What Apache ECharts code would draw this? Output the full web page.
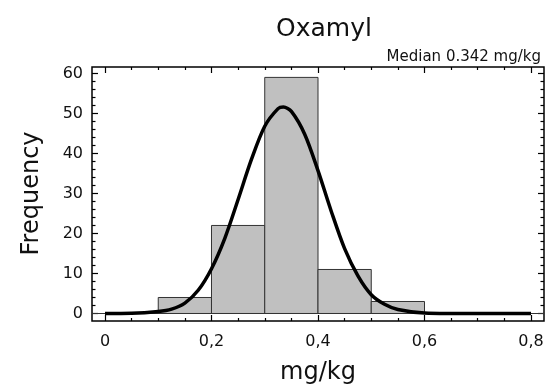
<!DOCTYPE html>
<html>
<head>
<meta charset="utf-8">
<script src="https://cdn.jsdelivr.net/npm/echarts@6/dist/echarts.min.js"></script>
<style>html,body{margin:0;padding:0;background:#fff}#c{width:548px;height:392px}</style>
</head>
<body>
<div id="c"></div>
<script>
var titleText = 'Oxamyl';
var subtitleText = 'Median 0.342 mg/kg';
var xName = 'mg/kg';
var yName = 'Frequency';
var binStart = [0.1, 0.2, 0.3, 0.4, 0.5];
var binEnd = [0.2, 0.3, 0.4, 0.5, 0.6];
var freq = [4, 22, 59, 11, 3];
var curveX = [0, 0.05, 0.1, 0.125, 0.15, 0.175, 0.2, 0.225, 0.25, 0.275, 0.3, 0.325, 0.335, 0.35, 0.375, 0.4, 0.425, 0.45, 0.475, 0.5, 0.525, 0.55, 0.6, 0.65, 0.7, 0.8];
var curveY = [0, 0.05, 0.5, 1.1, 2.6, 5.8, 11.2, 18.8, 28.5, 38.5, 46.8, 51.2, 51.6, 50.5, 44.8, 35.7, 25.5, 16.2, 9.4, 4.7, 2.3, 1.0, 0.12, 0.01, 0, 0];

var FONT = 'DejaVu Sans';
var chart = echarts.init(document.getElementById('c'), null, {renderer: 'canvas'});
var barData = binStart.map(function (s, i) { return [s, binEnd[i], freq[i]]; });
var lineData = curveX.map(function (x, i) { return [x, curveY[i]]; });

var hidden = {show: false};
chart.setOption({
  animation: false,
  backgroundColor: '#fff',
  title: [
    {text: titleText, left: 319, top: 12, textAlign: 'center',
     textStyle: {fontFamily: FONT, fontSize: 25, fontWeight: 'normal', color: '#111'}},
    {text: subtitleText, right: 2, top: 45,
     textStyle: {fontFamily: FONT, fontSize: 15, fontWeight: 'normal', color: '#111'}}
  ],
  grid: [
    {left: 92, right: 4, top: 67, bottom: 71, show: true, borderColor: '#000', borderWidth: 1.5, backgroundColor: 'transparent'},
    {left: 105, right: 17, top: 67, bottom: 71},
    {left: 92, right: 4, top: 73.4, bottom: 78.5}
  ],
  xAxis: [
    {gridIndex: 0, type: 'value', min: -0.0244, max: 0.8244, axisLine: hidden, axisTick: hidden, axisLabel: hidden, splitLine: hidden},
    {gridIndex: 1, type: 'value', position: 'bottom', min: 0, max: 0.8, interval: 0.2,
     axisLine: hidden, splitLine: hidden,
     axisTick: {show: true, inside: true, length: 6, lineStyle: {color: '#000', width: 1.2}},
     minorTick: {show: true, splitNumber: 4, length: 3, lineStyle: {color: '#000', width: 1.2}},
     axisLabel: {margin: 13, fontFamily: FONT, fontSize: 16, color: '#111',
       formatter: function (v) { return String(+v.toFixed(2)).replace('.', ','); }},
     name: xName, nameLocation: 'middle', nameGap: 40,
     nameTextStyle: {fontFamily: FONT, fontSize: 24, color: '#111'}},
    {gridIndex: 1, type: 'value', position: 'top', min: 0, max: 0.8, interval: 0.2,
     axisLine: hidden, splitLine: hidden, axisLabel: hidden,
     axisTick: {show: true, inside: true, length: 6, lineStyle: {color: '#000', width: 1.2}},
     minorTick: {show: true, splitNumber: 4, length: 3, lineStyle: {color: '#000', width: 1.2}}},
    {gridIndex: 2, type: 'value', show: false, min: 0, max: 1}
  ],
  yAxis: [
    {gridIndex: 0, type: 'value', min: -1.875, max: 61.6, axisLine: hidden, axisTick: hidden, axisLabel: hidden, splitLine: hidden},
    {gridIndex: 1, type: 'value', show: false, min: 0, max: 1},
    {gridIndex: 2, type: 'value', position: 'left', min: 0, max: 60, interval: 10,
     axisLine: hidden, splitLine: hidden,
     axisTick: {show: true, inside: true, length: 6, lineStyle: {color: '#000', width: 1.2}},
     minorTick: {show: true, splitNumber: 5, length: 3.5, lineStyle: {color: '#000', width: 1.2}},
     axisLabel: {margin: 9, fontFamily: FONT, fontSize: 16, color: '#111'},
     name: yName, nameLocation: 'middle', nameGap: 48,
     nameTextStyle: {fontFamily: FONT, fontSize: 24, color: '#111'}},
    {gridIndex: 2, type: 'value', position: 'right', min: 0, max: 60, interval: 10,
     axisLine: hidden, splitLine: hidden, axisLabel: hidden,
     axisTick: {show: true, inside: true, length: 6, lineStyle: {color: '#000', width: 1.2}},
     minorTick: {show: true, splitNumber: 5, length: 3.5, lineStyle: {color: '#000', width: 1.2}}}
  ],
  series: [
    {type: 'custom', xAxisIndex: 0, yAxisIndex: 0, data: barData,
     renderItem: function (params, api) {
       var p0 = api.coord([api.value(0), api.value(2)]);
       var p1 = api.coord([api.value(1), 0]);
       return {type: 'rect', shape: {x: p0[0], y: p0[1], width: p1[0] - p0[0], height: p1[1] - p0[1]},
               style: {fill: '#c0c0c0', stroke: '#333', lineWidth: 1}};
     }},
    {type: 'line', xAxisIndex: 0, yAxisIndex: 0, data: lineData, smooth: 0.3, symbol: 'none',
     lineStyle: {color: '#000', width: 3.5},
     markLine: {silent: true, symbol: 'none', label: {show: false},
       lineStyle: {color: '#333', width: 1, type: 'solid'}, data: [{yAxis: 0}]},
     z: 5}
  ]
});
</script>
</body>
</html>
